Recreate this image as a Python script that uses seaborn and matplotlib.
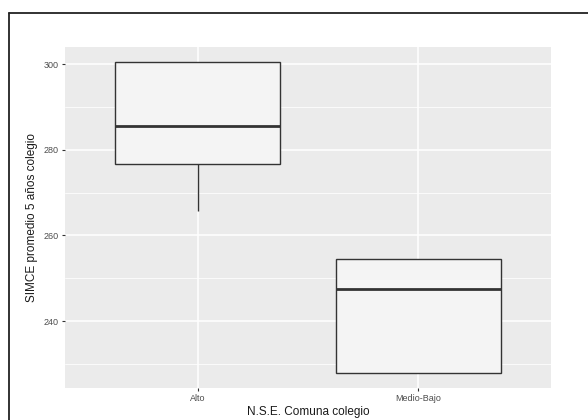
import numpy as np
import pandas as pd
import seaborn as sns
import matplotlib
matplotlib.use("Agg")
import matplotlib.pyplot as plt
from matplotlib.lines import Line2D
from matplotlib.ticker import MultipleLocator

# Data (values chosen so the box statistics match the reference)
categories = ["Alto", "Medio-Bajo"]
alto_values = [265.7, 276.7, 285.5, 300.4, 300.4]
medio_bajo_values = [228.0, 228.0, 247.4, 254.4, 254.4]
y_ticks = [240, 260, 280, 300]

df = pd.DataFrame({
    "nse": [categories[0]] * len(alto_values) + [categories[1]] * len(medio_bajo_values),
    "simce": alto_values + medio_bajo_values,
})

sns.set_theme(style="darkgrid")
plt.rcParams["font.family"] = ["Liberation Sans", "DejaVu Sans"]

fig = plt.figure(figsize=(5.88, 4.2), dpi=100)
ax = fig.add_axes([65 / 588, 1 - 388 / 420, (551 - 65) / 588, (388 - 47) / 420])
ax.set_facecolor("#EBEBEB")

sns.boxplot(
    data=df, x="nse", y="simce", order=categories, ax=ax,
    width=0.75, whis=1.5, color="#F4F4F4", saturation=1,
    linecolor="#333333", linewidth=1.0,
    medianprops=dict(color="#333333", linewidth=2.0),
    capprops=dict(linewidth=0), showfliers=False,
)

ax.set_xlim(-0.6, 1.6)
ax.set_ylim(224.4, 304.0)
ax.set_yticks(y_ticks)
ax.yaxis.set_minor_locator(MultipleLocator(10))
ax.grid(which="major", color="white", linewidth=1.1)
ax.grid(which="minor", axis="y", color="white", linewidth=0.55)
ax.set_axisbelow(True)
for s in ax.spines.values():
    s.set_visible(False)

ax.tick_params(axis="both", which="major", length=2.5, width=0.8, color="#333333",
               labelsize=6.5, labelcolor="#4D4D4D", pad=2)
ax.tick_params(axis="both", which="minor", length=0)
ax.tick_params(bottom=True, left=True)

ax.set_xlabel("N.S.E. Comuna colegio", fontsize=8.5, color="#1A1A1A", labelpad=2)
ax.set_ylabel("SIMCE promedio 5 años colegio", fontsize=8.5, color="#1A1A1A", labelpad=4)

# outer frame (left and top edges visible in the reference)
fig.add_artist(Line2D([9 / 588, 9 / 588], [0, 1 - 13 / 420], transform=fig.transFigure,
                      color="#222222", linewidth=1.3))
fig.add_artist(Line2D([9 / 588, 1], [1 - 13 / 420, 1 - 13 / 420], transform=fig.transFigure,
                      color="#222222", linewidth=1.3))

fig.savefig("out.png", dpi=100, facecolor="white")
